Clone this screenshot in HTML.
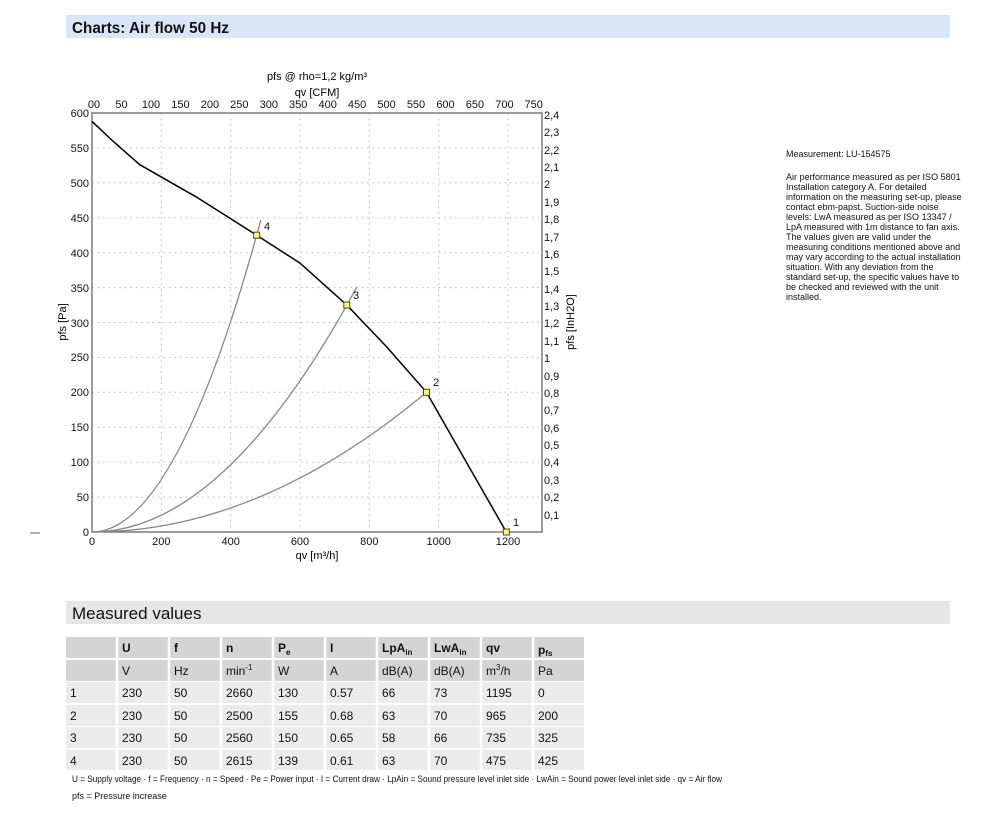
<!DOCTYPE html>
<html><head><meta charset="utf-8"><style>
body{margin:0;background:#fff;width:1000px;height:815px;overflow:hidden;font-family:"Liberation Sans",sans-serif}
svg text{font-family:"Liberation Sans",sans-serif}
</style></head><body>
<svg width="1000" height="815" viewBox="0 0 1000 815" xmlns="http://www.w3.org/2000/svg">
<rect x="66" y="15" width="884" height="23" fill="#d9e6f8"/>
<text x="72" y="33" font-size="16" font-weight="bold" fill="#111" textLength="157" lengthAdjust="spacingAndGlyphs">Charts: Air flow 50 Hz</text>

<text x="317" y="80" font-size="11" text-anchor="middle">pfs @ rho=1,2 kg/m³</text>
<text x="317" y="96" font-size="11" text-anchor="middle">qv [CFM]</text>
<text x="66" y="322" font-size="11" text-anchor="middle" transform="rotate(-90 66 322)">pfs [Pa]</text>
<text x="574" y="322" font-size="11" text-anchor="middle" transform="rotate(-90 574 322)">pfs [InH2O]</text>
<text x="317" y="559" font-size="11" text-anchor="middle">qv [m³/h]</text>
<line x1="30" y1="533" x2="40" y2="533" stroke="#666"/>

<g stroke="#bbb" stroke-dasharray="1.5,4" stroke-width="1">
<line x1="161.3" y1="113" x2="161.3" y2="532"/><line x1="230.7" y1="113" x2="230.7" y2="532"/><line x1="300" y1="113" x2="300" y2="532"/><line x1="369.3" y1="113" x2="369.3" y2="532"/><line x1="438.7" y1="113" x2="438.7" y2="532"/><line x1="508" y1="113" x2="508" y2="532"/>
<line x1="92" y1="147.9" x2="542" y2="147.9"/><line x1="92" y1="182.8" x2="542" y2="182.8"/><line x1="92" y1="217.8" x2="542" y2="217.8"/><line x1="92" y1="252.7" x2="542" y2="252.7"/><line x1="92" y1="287.6" x2="542" y2="287.6"/><line x1="92" y1="322.5" x2="542" y2="322.5"/><line x1="92" y1="357.4" x2="542" y2="357.4"/><line x1="92" y1="392.3" x2="542" y2="392.3"/><line x1="92" y1="427.3" x2="542" y2="427.3"/><line x1="92" y1="462.2" x2="542" y2="462.2"/><line x1="92" y1="497.1" x2="542" y2="497.1"/>
</g>
<rect x="92" y="113" width="450" height="419" fill="none" stroke="#666" stroke-width="1.3"/>

<g font-size="11" text-anchor="end" fill="#111">
<text x="89" y="117">600</text><text x="89" y="152">550</text><text x="89" y="187">500</text><text x="89" y="222">450</text><text x="89" y="257">400</text><text x="89" y="292">350</text><text x="89" y="327">300</text><text x="89" y="361">250</text><text x="89" y="396">200</text><text x="89" y="431">150</text><text x="89" y="466">100</text><text x="89" y="501">50</text><text x="89" y="536">0</text>
</g>
<g font-size="11" fill="#111">
<text x="544" y="119">2,4</text><text x="544" y="136">2,3</text><text x="544" y="154">2,2</text><text x="544" y="171">2,1</text><text x="544" y="188">2</text><text x="544" y="206">1,9</text><text x="544" y="223">1,8</text><text x="544" y="241">1,7</text><text x="544" y="258">1,6</text><text x="544" y="275">1,5</text><text x="544" y="293">1,4</text><text x="544" y="310">1,3</text><text x="544" y="327">1,2</text><text x="544" y="345">1,1</text><text x="544" y="362">1</text><text x="544" y="380">0,9</text><text x="544" y="397">0,8</text><text x="544" y="414">0,7</text><text x="544" y="432">0,6</text><text x="544" y="449">0,5</text><text x="544" y="466">0,4</text><text x="544" y="484">0,3</text><text x="544" y="501">0,2</text><text x="544" y="519">0,1</text>
</g>
<g font-size="11" text-anchor="middle" fill="#111">
<text x="92" y="545">0</text><text x="161.3" y="545">200</text><text x="230.7" y="545">400</text><text x="300" y="545">600</text><text x="369.3" y="545">800</text><text x="438.7" y="545">1000</text><text x="508" y="545">1200</text>
<text x="94" y="108">00</text><text x="121.5" y="108">50</text><text x="151" y="108">100</text><text x="180.4" y="108">150</text><text x="209.9" y="108">200</text><text x="239.3" y="108">250</text><text x="268.8" y="108">300</text><text x="298.2" y="108">350</text><text x="327.7" y="108">400</text><text x="357.1" y="108">450</text><text x="386.6" y="108">500</text><text x="416" y="108">550</text><text x="445.5" y="108">600</text><text x="474.9" y="108">650</text><text x="504.4" y="108">700</text><text x="533.7" y="108">750</text>
</g>

<g fill="none" stroke="#888" stroke-width="1.3">
<path d="M92,532 Q176.4,532 260.8,220.1"/>
<path d="M92,532 Q224.4,532 356.9,286.8"/>
<path d="M92,532 Q261,532 430,389.4"/>
</g>
<polyline fill="none" stroke="#000" stroke-width="1.5" points="92,121.4 112.8,141 139.8,164.7 196,196.8 256.7,235.2 300,263.1 346.8,305.1 386.7,346.9 426.5,392.3 466.4,462.2 506.3,532"/>
<g fill="#ffff66" stroke="#444" stroke-width="1">
<rect x="503.3" y="529" width="6" height="6"/><rect x="423.5" y="389.3" width="6" height="6"/><rect x="343.8" y="302.1" width="6" height="6"/><rect x="253.7" y="232.2" width="6" height="6"/>
</g>
<g font-size="11" fill="#111">
<text x="513" y="526">1</text><text x="433" y="386">2</text><text x="353" y="299">3</text><text x="264" y="230">4</text>
</g>

<g font-size="9" fill="#111">
<text x="786" y="157">Measurement: LU-154575</text>
<text x="786" y="180">Air performance measured as per ISO 5801</text>
<text x="786" y="190">Installation category A. For detailed</text>
<text x="786" y="200">information on the measuring set-up, please</text>
<text x="786" y="210">contact ebm-papst. Suction-side noise</text>
<text x="786" y="220">levels: LwA measured as per ISO 13347 /</text>
<text x="786" y="230">LpA measured with 1m distance to fan axis.</text>
<text x="786" y="240">The values given are valid under the</text>
<text x="786" y="250">measuring conditions mentioned above and</text>
<text x="786" y="260">may vary according to the actual installation</text>
<text x="786" y="270">situation. With any deviation from the</text>
<text x="786" y="280">standard set-up, the specific values have to</text>
<text x="786" y="290">be checked and reviewed with the unit</text>
<text x="786" y="300">installed.</text>
</g>

<rect x="66" y="601" width="884" height="23" fill="#e6e6e6"/>
<text x="72" y="619" font-size="17" fill="#111">Measured values</text>

<g>
<rect x="66" y="637" width="518" height="21" fill="#d4d4d4"/>
<rect x="66" y="660" width="518" height="21" fill="#d4d4d4"/>
<rect x="66" y="682" width="518" height="21" fill="#ebebeb"/>
<rect x="66" y="705" width="518" height="21" fill="#ebebeb"/>
<rect x="66" y="727" width="518" height="21" fill="#ebebeb"/>
<rect x="66" y="750" width="518" height="20" fill="#ebebeb"/>
<g stroke="#fff" stroke-width="2.5">
<line x1="117" y1="637" x2="117" y2="770"/><line x1="169" y1="637" x2="169" y2="770"/><line x1="221" y1="637" x2="221" y2="770"/><line x1="273" y1="637" x2="273" y2="770"/><line x1="325" y1="637" x2="325" y2="770"/><line x1="377" y1="637" x2="377" y2="770"/><line x1="429" y1="637" x2="429" y2="770"/><line x1="481" y1="637" x2="481" y2="770"/><line x1="533" y1="637" x2="533" y2="770"/>
</g>
</g>
<g font-size="12" fill="#111" font-weight="bold">
<text x="122" y="652">U</text><text x="174" y="652">f</text><text x="226" y="652">n</text><text x="278" y="652">P<tspan font-size="8" dy="3">e</tspan></text><text x="330" y="652">I</text><text x="382" y="652">LpA<tspan font-size="8" dy="3">in</tspan></text><text x="434" y="652">LwA<tspan font-size="8" dy="3">in</tspan></text><text x="486" y="652">qv</text><text x="538" y="654">p<tspan font-size="8" dy="2">fs</tspan></text>
</g>
<g font-size="12" fill="#111">
<text x="122" y="675">V</text><text x="174" y="675">Hz</text><text x="226" y="675">min<tspan font-size="8" dy="-5">-1</tspan></text><text x="278" y="675">W</text><text x="330" y="675">A</text><text x="382" y="675">dB(A)</text><text x="434" y="675">dB(A)</text><text x="486" y="675">m<tspan font-size="8" dy="-5">3</tspan><tspan dy="5">/h</tspan></text><text x="538" y="675">Pa</text>
<text x="70" y="697">1</text><text x="122" y="697">230</text><text x="174" y="697">50</text><text x="226" y="697">2660</text><text x="278" y="697">130</text><text x="330" y="697">0.57</text><text x="382" y="697">66</text><text x="434" y="697">73</text><text x="486" y="697">1195</text><text x="538" y="697">0</text>
<text x="70" y="720">2</text><text x="122" y="720">230</text><text x="174" y="720">50</text><text x="226" y="720">2500</text><text x="278" y="720">155</text><text x="330" y="720">0.68</text><text x="382" y="720">63</text><text x="434" y="720">70</text><text x="486" y="720">965</text><text x="538" y="720">200</text>
<text x="70" y="742">3</text><text x="122" y="742">230</text><text x="174" y="742">50</text><text x="226" y="742">2560</text><text x="278" y="742">150</text><text x="330" y="742">0.65</text><text x="382" y="742">58</text><text x="434" y="742">66</text><text x="486" y="742">735</text><text x="538" y="742">325</text>
<text x="70" y="765">4</text><text x="122" y="765">230</text><text x="174" y="765">50</text><text x="226" y="765">2615</text><text x="278" y="765">139</text><text x="330" y="765">0.61</text><text x="382" y="765">63</text><text x="434" y="765">70</text><text x="486" y="765">475</text><text x="538" y="765">425</text>
</g>
<g font-size="9" fill="#111">
<text x="72" y="782" textLength="650" lengthAdjust="spacingAndGlyphs">U = Supply voltage · f = Frequency · n = Speed · Pe = Power input · I = Current draw · LpAin = Sound pressure level inlet side · LwAin = Sound power level inlet side · qv = Air flow</text>
<text x="72" y="799">pfs = Pressure increase</text>
</g>
</svg>
</body></html>
